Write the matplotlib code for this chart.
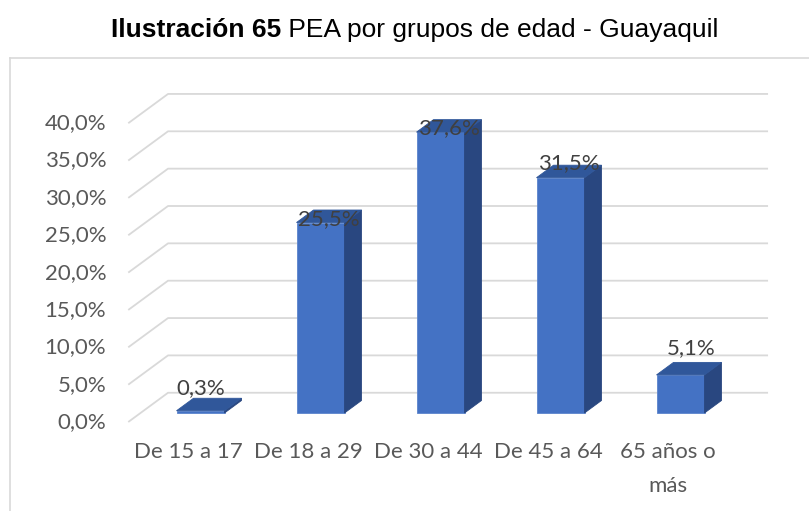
import matplotlib.pyplot as plt
from matplotlib.lines import Line2D
from matplotlib.patches import Polygon

categorias = ['De 15 a 17', 'De 18 a 29', 'De 30 a 44', 'De 45 a 64', '65 años o\nmás']
valores = [0.3, 25.5, 37.6, 31.5, 5.1]
marcas_y = [0, 5, 10, 15, 20, 25, 30, 35, 40]

# pequeños ajustes de las etiquetas de valor (px)
etiqueta_dx = [-8, 0, 0, 0, 2]
etiqueta_dy = [16.5, -2.7, -2, 8.5, 20.7]

# escala de pixeles del plano frontal de las barras
PX_X = 120.0
PX_Y = 7.47
X0_PX, Y0_PX = 200.5, 413.0
# vector de profundidad (oblicua)
DX, DY = 17 / PX_X, 12.5 / PX_Y
D_FRENTE, D_FONDO = -0.72, 1.62
ANCHO = 0.4

AZUL = '#4472C4'
AZUL_LADO = '#294780'
AZUL_TECHO = '#30579A'
GRIS_REJILLA = '#D9D9D9'
GRIS_TEXTO = '#595959'

W, H = 809, 511
fig = plt.figure(figsize=(W / 100, H / 100), dpi=100)
ax = fig.add_axes([0, 0, 1, 1])
ax.set_xlim(-X0_PX / PX_X, (W - X0_PX) / PX_X)
ax.set_ylim((Y0_PX - H) / PX_Y, Y0_PX / PX_Y)
ax.axis('off')

fuente = 'Lato'
tam = 16
pt = 72 / 100  # px -> pt


def proy(x, v, d):
    return x + d * DX, v + d * DY


# borde del área del gráfico
fig.add_artist(Line2D([10 / W, 10 / W], [0, 1 - 58 / H], transform=fig.transFigure,
                      color=GRIS_REJILLA, lw=1.2))
fig.add_artist(Line2D([10 / W, 1], [1 - 58 / H, 1 - 58 / H], transform=fig.transFigure,
                      color=GRIS_REJILLA, lw=1.2))

# rejilla: pared lateral y pared de fondo
x_izq, x_der = -0.5, len(categorias) - 0.5
for t in marcas_y:
    p1 = proy(x_izq, t, D_FRENTE)
    p2 = proy(x_izq, t, D_FONDO)
    p3 = proy(x_der, t, D_FONDO)
    ax.plot([p1[0], p2[0], p3[0]], [p1[1], p2[1], p3[1]], color=GRIS_REJILLA,
            lw=1.3, solid_capstyle='butt', zorder=1)
    ax.annotate(f'{t:.1f}%'.replace('.', ','), xy=p1, xytext=(-22 * pt, 0),
                textcoords='offset points', ha='right', va='center',
                fontsize=tam, family=fuente, color=GRIS_TEXTO)

# barras 3D
for i, v in enumerate(valores):
    xa, xb = i - ANCHO / 2, i + ANCHO / 2
    frente = [proy(xa, 0, 0), proy(xb, 0, 0), proy(xb, v, 0), proy(xa, v, 0)]
    lado = [proy(xb, 0, 0), proy(xb, 0, 1), proy(xb, v, 1), proy(xb, v, 0)]
    techo = [proy(xa, v, 0), proy(xb, v, 0), proy(xb, v, 1), proy(xa, v, 1)]
    ax.add_patch(Polygon(frente, closed=True, facecolor=AZUL, edgecolor='#5B84CC',
                         lw=0.6, zorder=3))
    ax.add_patch(Polygon(lado, closed=True, facecolor=AZUL_LADO, edgecolor=AZUL_LADO,
                         lw=0.6, zorder=3))
    ax.add_patch(Polygon(techo, closed=True, facecolor=AZUL_TECHO, edgecolor=AZUL_TECHO,
                         lw=0.6, zorder=3))
    ax.annotate(f'{v:.1f}%'.replace('.', ','), xy=proy(i, v, 0.5),
                xytext=(etiqueta_dx[i] * pt, etiqueta_dy[i] * pt),
                textcoords='offset points', ha='center', va='center',
                fontsize=tam, family=fuente, color='#404040', zorder=5)
    ax.annotate(categorias[i], xy=proy(i, 0, D_FRENTE), xytext=(0, -20 * pt),
                textcoords='offset points', ha='center', va='top', linespacing=1.85,
                fontsize=tam, family=fuente, color=GRIS_TEXTO)

# título: parte en negrita + parte normal, centrado
r = fig.canvas.get_renderer()
t1 = fig.text(0, 1 - 30 / H, 'Ilustración 65', fontsize=19, fontweight='bold',
              family='Liberation Sans', va='center', ha='left')
t2 = fig.text(0, 1 - 30 / H, ' PEA por grupos de edad - Guayaquil', fontsize=19,
              family='Liberation Sans', va='center', ha='left')
w1 = t1.get_window_extent(r).width
w2 = t2.get_window_extent(r).width
inicio = 415 - (w1 + w2) / 2
t1.set_x(inicio / W)
t2.set_x((inicio + w1) / W)

fig.savefig('out.png', dpi=100)
